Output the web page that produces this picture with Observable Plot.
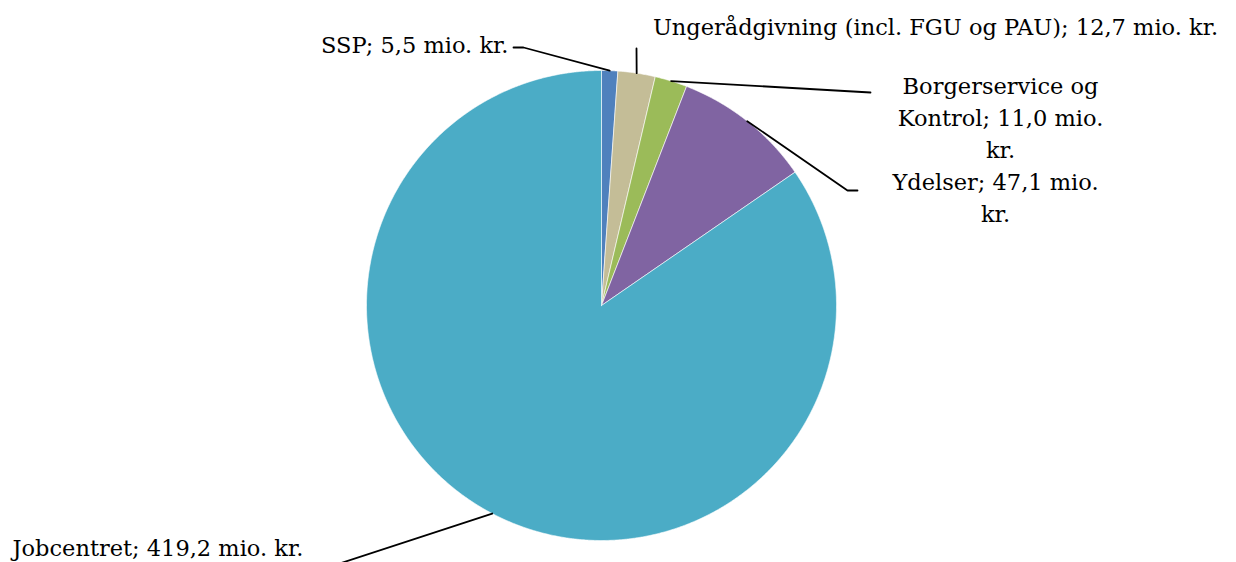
<!DOCTYPE html>
<html>
<head>
<meta charset="utf-8">
<script src="https://cdn.jsdelivr.net/npm/d3@7"></script>
<script src="https://cdn.jsdelivr.net/npm/@observablehq/plot@0.6"></script>
<style>
  html, body { margin: 0; padding: 0; background: #fff; }
  #chart svg { display: block; }
</style>
</head>
<body>
<div id="chart"></div>
<script>
// ---- Data ----
const categories = ["SSP", "Ungerådgivning (incl. FGU og PAU)", "Borgerservice og Kontrol", "Ydelser", "Jobcentret"];
const values = [5.5, 12.7, 11.0, 47.1, 419.2];
const labels = [
  "SSP; 5,5 mio. kr.",
  "Ungerådgivning (incl. FGU og PAU); 12,7 mio. kr.",
  "Borgerservice og\nKontrol; 11,0 mio.\nkr.",
  "Ydelser; 47,1 mio.\nkr.",
  "Jobcentret; 419,2 mio. kr."
];
const colors = ["#4F81BD", "#C4BD97", "#9BBB59", "#8064A2", "#4BACC6"];

// ---- Layout (pixels) ----
const W = 1236, H = 562;
const cx = 601, cy = 305, R = 235;
// label placement: elbow points of leader lines and text anchor
const labelLayout = [
  {elbows: [[523, 47], [513, 47]], tx: 508, ty: 42, anchor: "end"},
  {elbows: [[636, 48]], tx: 935, ty: 24, anchor: "middle"},
  {elbows: [[870, 92]], tx: 1000, ty: 115, anchor: "middle"},
  {elbows: [[847, 190], [857, 190]], tx: 995, ty: 195, anchor: "middle"},
  {elbows: [[330, 566]], tx: 12, ty: 545, anchor: "start"}
];

const pie = d3.pie().sort(null).value(d => d)(values);

// slice polygons
const slicePts = [];
pie.forEach((p, i) => {
  const name = categories[i];
  slicePts.push({name, x: cx, y: cy});
  const steps = Math.max(2, Math.ceil((p.endAngle - p.startAngle) / 0.005));
  for (let k = 0; k <= steps; k++) {
    const a = p.startAngle + (p.endAngle - p.startAngle) * k / steps;
    slicePts.push({name, x: cx + R * Math.sin(a), y: cy - R * Math.cos(a)});
  }
  slicePts.push({name, x: cx, y: cy});
});

// leader lines
const leaderPts = [];
pie.forEach((p, i) => {
  const a = (p.startAngle + p.endAngle) / 2;
  const name = categories[i];
  leaderPts.push({name, x: cx + R * Math.sin(a), y: cy - R * Math.cos(a)});
  labelLayout[i].elbows.forEach(([x, y]) => leaderPts.push({name, x, y}));
});

const textData = categories.map((c, i) => ({name: c, label: labels[i], ...labelLayout[i]}));

const font = "'DejaVu Serif', serif";

const chart = Plot.plot({
  width: W,
  height: H,
  margin: 0,
  style: {background: "#fff", fontFamily: font},
  x: {domain: [0, W], range: [0, W], axis: null},
  y: {domain: [0, H], range: [0, H], axis: null},
  color: {domain: categories, range: colors},
  marks: [
    Plot.line(slicePts, {x: "x", y: "y", z: "name", fill: "name", stroke: "#fff", strokeWidth: 0.6, curve: "linear-closed"}),
    Plot.line(leaderPts, {x: "x", y: "y", z: "name", stroke: "#000", strokeWidth: 1.8}),
    ...["start", "middle", "end"].map(anc =>
      Plot.text(textData.filter(d => d.anchor === anc), {
        x: "tx", y: "ty", text: "label", textAnchor: anc,
        fontSize: 22.5, lineHeight: 1.42, fill: "#000", fontFamily: font
      })
    )
  ]
});
document.getElementById("chart").appendChild(chart);
</script>
</body>
</html>
